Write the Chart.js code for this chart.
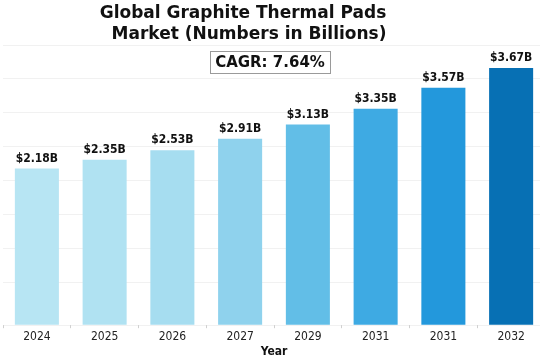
<!DOCTYPE html>
<html>
<head>
<meta charset="utf-8">
<script src="https://cdn.jsdelivr.net/npm/chart.js@4.4.1/dist/chart.umd.min.js"></script>
<style>
html,body{margin:0;padding:0;background:#ffffff;}
#wrap{width:540px;height:360px;}
</style>
</head>
<body>
<div id="wrap"><canvas id="c" width="540" height="360"></canvas></div>
<script>
// ---- data ----
const categories = ['2024', '2025', '2026', '2027', '2029', '2031', '2031', '2032'];
const marketValues = [2.18, 2.31, 2.45, 2.62, 2.83, 3.06, 3.37, 3.66];
// value labels as printed above the bars
const valueLabels = ['$2.18B', '$2.35B', '$2.53B', '$2.91B', '$3.13B', '$3.35B', '$3.57B', '$3.67B'];
const titleLines = ['Global Graphite Thermal Pads', 'Market (Numbers in Billions)'];
const cagrText = 'CAGR: 7.64%';
const xAxisTitle = 'Year';

// ---- style ----
const barColors = ['#b7e5f3', '#b0e2f2', '#a6ddf0', '#8fd2ed', '#62bee7', '#3eaae3', '#2398dc', '#0770b4'];
const Y_MIN = -0.13, Y_MAX = 4.0;
const FONT = '"DejaVu Sans Condensed", "DejaVu Sans", sans-serif';
const PLOT_RIGHT_OVERFLOW = 5;

// the plot area of the original extends slightly past the right edge of the image
const widenPlot = {
  id: 'widenPlot',
  afterLayout(chart) {
    const x = chart.scales.x;
    x.right += PLOT_RIGHT_OVERFLOW;
    x.width += PLOT_RIGHT_OVERFLOW;
    x.configure();
    chart.chartArea.right += PLOT_RIGHT_OVERFLOW;
    chart.chartArea.width += PLOT_RIGHT_OVERFLOW;
  }
};

const overlay = {
  id: 'overlay',
  afterDraw(chart) {
    const ctx = chart.ctx;
    ctx.save();
    // title
    ctx.fillStyle = '#111';
    ctx.textAlign = 'center';
    ctx.textBaseline = 'middle';
    ctx.font = 'bold 17px "DejaVu Sans", sans-serif';
    ctx.fillText(titleLines[0], 243, 14);
    ctx.fillText(titleLines[1], 249, 35);
    // CAGR box
    ctx.font = 'bold 15px "DejaVu Sans", sans-serif';
    const w = ctx.measureText(cagrText).width + 10;
    const cx = 270, cy = 62, h = 22;
    ctx.fillStyle = '#ffffff';
    ctx.fillRect(cx - w / 2, cy - h / 2, w, h);
    ctx.strokeStyle = '#9a9a9a';
    ctx.lineWidth = 1;
    ctx.strokeRect(Math.round(cx - w / 2) + 0.5, Math.round(cy - h / 2) + 0.5, Math.round(w), h);
    ctx.fillStyle = '#111';
    ctx.fillText(cagrText, cx, cy + 1);
    // value labels
    ctx.font = 'bold 12px ' + FONT;
    ctx.textBaseline = 'bottom';
    const meta = chart.getDatasetMeta(0);
    meta.data.forEach((bar, i) => {
      ctx.fillText(valueLabels[i], bar.x, bar.y - 4);
    });
    ctx.restore();
  }
};

new Chart(document.getElementById('c'), {
  type: 'bar',
  data: {
    labels: categories,
    datasets: [{
      data: marketValues,
      base: Y_MIN,
      backgroundColor: barColors,
      borderWidth: 0,
      categoryPercentage: 1.0,
      barPercentage: 0.65
    }]
  },
  options: {
    responsive: false,
    animation: false,
    devicePixelRatio: 1,
    layout: { padding: { top: 45, left: 3, right: 0, bottom: 1 } },
    plugins: {
      legend: { display: false },
      title: { display: false },
      tooltip: { enabled: false }
    },
    scales: {
      x: {
        grid: { display: true, drawOnChartArea: false, drawTicks: true, tickLength: 3, color: '#d0d0d0' },
        border: { display: false },
        ticks: { font: { family: FONT, size: 12 }, color: '#222', padding: 1, maxRotation: 0, autoSkip: false },
        title: { display: true, text: xAxisTitle, font: { family: FONT, size: 12, weight: 'bold' }, color: '#111', padding: { top: 0, bottom: 0 } }
      },
      y: {
        min: Y_MIN,
        max: Y_MAX,
        z: 1,
        grid: { color: 'rgba(215,215,215,0.35)', drawTicks: false, lineWidth: 1 },
        border: { display: false },
        ticks: { display: false, stepSize: 0.5 }
      }
    }
  },
  plugins: [widenPlot, overlay]
});
</script>
</body>
</html>
